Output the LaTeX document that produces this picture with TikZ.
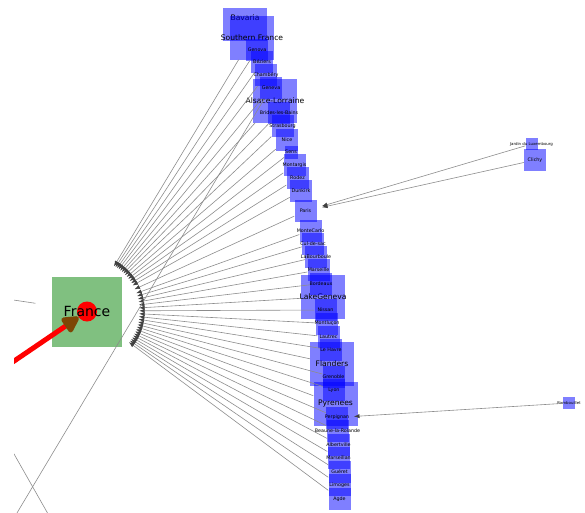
\documentclass[tikz,border=0pt]{standalone}
\usepackage{fontspec}
\setmainfont{DejaVu Sans}
\usetikzlibrary{arrows.meta}
\definecolor{francegreen}{RGB}{128,192,128}
\definecolor{tipbrown}{RGB}{125,70,5}

\tikzset{
  box/.style={rectangle, fill=blue, fill opacity=0.5, draw=none, inner sep=0pt, minimum size=22pt},
  city/.style={box, label={[font=\fontsize{4.8}{5}\selectfont]center:#1}},
  region/.style={box, minimum size=44pt, label={[font=\fontsize{7.6}{8}\selectfont]center:#1}},
  hamlet/.style={box, minimum size=12pt, label={[font=\fontsize{3.9}{4}\selectfont]center:#1}},
  hubring/.style={circle, minimum size=104pt, inner sep=0pt, draw=none},
  edge/.style={draw=black!45, line width=0.6pt, -{Latex[length=5.5pt,width=4.2pt,color=black!75]}},
  wire/.style={draw=black!45, line width=0.6pt},
}

\begin{document}
\begin{tikzpicture}[x=1pt, y=-1pt]
\useasboundingbox (0,0) rectangle (585,512);
\clip (14,0) rectangle (585,512);

% France in the middle left
\node[fill=francegreen, minimum size=70pt, inner sep=0pt] (France) at (87,312) {};
\node[hubring] (hub) at (87,311) {};
\coordinate (redsrc) at (-30,391);
\node[circle, fill=red, minimum size=20pt, inner sep=0pt] (dot) at (87,311.5) {};
\draw[red, line width=5pt, -{Triangle[length=19pt,width=19pt,round,fill=tipbrown,color=tipbrown]}] (redsrc) -- (dot);
\node[font=\fontsize{14}{14}\selectfont] (francelbl) at (87,311) {France};

% the column of places
\node[region, minimum height=33pt, label={[yshift=6.5pt, font=\fontsize{7.6}{8}\selectfont]center:Bavaria}] (bavaria) at (245,24.5) {};
\foreach \id/\x/\y/\lbl in {southernfrance/252/37.5/Southern France, alsace/275/100.5/Alsace-Lorraine,
  lakegeneva/323/297/LakeGeneva, flanders/332/363.5/Flanders, pyrenees/335.5/404/Pyrenees}
  \node[region=\lbl] (\id) at (\x,\y) {};
\foreach \id/\x/\y/\lbl in {genova/257/49.5/Genova, beziers/262/62/Béziers, chambery/266/75/Chambéry,
  geneva/271/87.5/Geneva, brides/279/113/Brides-les-Bains, strasbourg/282.5/126/Strasbourg,
  nice/287/139.5/Nice, montargis/294.5/165/Montargis, rodez/297.5/178/Rodez,
  dunkirk/301/191/Dunkirk, paris/305.5/211/Paris, montecarlo/310.5/230.5/MonteCarlo,
  culdesac/313/243.5/Cul-de-sac, labourboule/316/257/LaBourboule, marseille/318.5/270/Marseille,
  bordeaux/321/283.5/Bordeaux, nissan/325.5/310/Nissan, montlucon/327/323.5/Montluçon,
  lautrec/328.5/337/Lautrec, lehavre/331/350/Le Havre, grenoble/333.5/377/Grenoble,
  lyon/334/390/Lyon, perpignan/337/417.5/Perpignan, beaune/337.5/431/Beaune-la-Rolande,
  albertville/338.5/444.5/Albertville, marseillan/338.5/458/Marseillan, gueret/339.5/472/Guéret,
  limoges/339.5/485/Limoges, agde/339.5/498.7/Agde, clichy/535/160/Clichy}
  \node[city=\lbl] (\id) at (\x,\y) {};
\node[city=Sens, minimum size=13pt] (sens) at (291,152) {};
\node[hamlet=Jardin du Luxembourg] (jardin) at (531.5,144) {};
\node[hamlet=Rambouillet] (rambouillet) at (569,403) {};

% everything points at France
\foreach \id in {southernfrance, genova, beziers, chambery, geneva, alsace, brides, strasbourg,
  nice, sens, montargis, rodez, dunkirk, paris, montecarlo, culdesac, labourboule, marseille,
  bordeaux, lakegeneva, nissan, montlucon, lautrec, lehavre, flanders, grenoble, lyon,
  pyrenees, perpignan, beaune, albertville, marseillan, gueret, limoges, agde}
  \draw[edge] (\id) -- (hub);

\draw[edge, shorten >=17pt] (jardin) -- (paris.center);
\draw[edge, shorten >=17pt] (clichy) -- (paris.center);
\draw[edge, shorten >=17pt] (rambouillet) -- (perpignan.center);

% edges leaving the frame
\coordinate (offsw) at (-35,600);
\coordinate (offw) at (-40,292);
\coordinate (offa) at (-20,394);
\coordinate (offb) at (60,535);
\draw[wire] (geneva) -- (offsw);
\draw[wire] (hub) -- (offw);
\draw[wire] (offa) -- (offb);

\end{tikzpicture}
\end{document}
